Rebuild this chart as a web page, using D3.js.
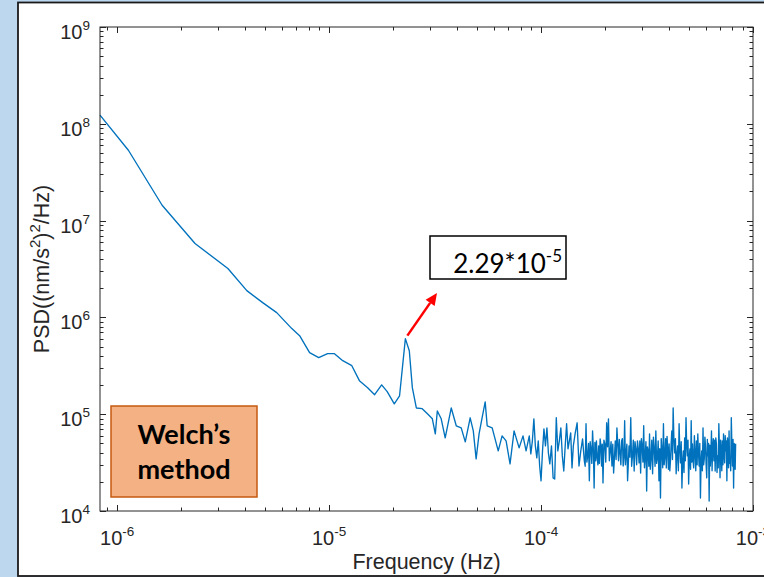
<!DOCTYPE html>
<html>
<head>
<meta charset="utf-8">
<script src="https://cdn.jsdelivr.net/npm/d3@7"></script>
<style>
  html, body { margin: 0; padding: 0; background: #bdd7ee; }
  svg { display: block; }
</style>
</head>
<body>
<svg id="chart"></svg>
<script>
// Гладкая низкочастотная часть спектра: частота (Hz) и PSD ((nm/s^2)^2/Hz)
let freqLow = [8.3e-7, 1.13e-6, 1.63e-6, 2.33e-6, 3.33e-6, 4.09e-6, 4.86e-6, 5.66e-6, 6.67e-6, 7.26e-6,
  8.09e-6, 8.93e-6, 9.84e-6, 1.06e-5, 1.16e-5, 1.28e-5, 1.39e-5, 1.52e-5, 1.64e-5, 1.77e-5,
  1.88e-5, 2.03e-5, 2.15e-5, 2.29e-5, 2.39e-5, 2.47e-5, 2.58e-5, 2.75e-5, 2.91e-5, 3.07e-5,
  3.17e-5, 3.24e-5, 3.38e-5, 3.53e-5, 3.77e-5, 3.98e-5, 4.2e-5, 4.39e-5, 4.63e-5, 4.79e-5,
  4.94e-5, 5.1e-5, 5.27e-5, 5.45e-5, 5.57e-5, 5.88e-5, 6.28e-5, 6.55e-5, 6.84e-5, 7.14e-5,
  7.46e-5, 7.88e-5, 8.22e-5, 8.5e-5];
let psdLow = [1.23e8, 5.33e7, 1.44e7, 5.8e6, 3.2e6, 1.89e6, 1.42e6, 1.12e6, 7.66e5, 6.48e5,
  4.32e5, 3.84e5, 4.22e5, 4.22e5, 3.57e5, 3.17e5, 2.22e5, 1.88e5, 1.59e5, 2.01e5,
  1.71e5, 1.28e5, 1.55e5, 6.04e5, 4.53e5, 1.88e5, 1.16e5, 1.14e5, 1.01e5, 8.96e4,
  6.27e4, 1.08e5, 8.96e4, 5.7e4, 1.16e5, 7.59e4, 7.22e4, 5.18e4, 9.18e4, 6.73e4,
  3.45e4, 6.27e4, 9.18e4, 1.34e5, 7.59e4, 7.22e4, 4.18e4, 5.97e4, 5.31e4, 3.07e4,
  6.73e4, 4.49e4, 5.97e4, 4.18e4];

// Шумная высокочастотная часть: частота в единицах 1e-4 Hz, PSD в единицах 1e4
let freqHigh = [0.88, 0.895, 0.91, 0.925, 0.94, 0.955, 0.97, 0.985, 1.00, 1.016,
  1.032, 1.049, 1.066, 1.083, 1.10, 1.12, 1.14, 1.16, 1.18, 1.20,
  1.22, 1.24, 1.26, 1.28, 1.30, 1.32, 1.34, 1.36, 1.38, 1.40,
  1.42, 1.45, 1.48, 1.51, 1.54, 1.57, 1.60, 1.63, 1.66, 1.69,
  1.72, 1.75, 1.78, 1.81, 1.84, 1.87, 1.90, 1.93, 1.96, 2.00,
  2.04, 2.08, 2.12, 2.16, 2.20, 2.24, 2.28, 2.32, 2.36, 2.40,
  2.44, 2.48, 2.52, 2.56, 2.60, 2.65, 2.70, 2.75, 2.80, 2.85,
  2.90, 2.95, 3.00, 3.05, 3.10, 3.15, 3.20, 3.25, 3.30, 3.36,
  3.42, 3.48, 3.54, 3.60, 3.66, 3.72, 3.78, 3.84, 3.90, 3.96,
  4.02, 4.08, 4.14, 4.20, 4.27, 4.34, 4.41, 4.48, 4.55, 4.62,
  4.69, 4.76, 4.83, 4.90, 4.97, 5.04, 5.11, 5.18, 5.25, 5.33,
  5.41, 5.49, 5.57, 5.65, 5.73, 5.81, 5.89, 5.97, 6.05, 6.13,
  6.21, 6.29, 6.37, 6.45, 6.54, 6.63, 6.72, 6.81, 6.90, 6.99,
  7.08, 7.17, 7.26, 7.35, 7.44, 7.53, 7.62, 7.71, 7.80, 7.90,
  8.00, 8.10, 8.20, 8.28];
let psdHigh = [5.97, 3.89, 5.31, 8.96, 4.71, 3.54, 5.31, 2.92, 2.05, 4.18,
  7.06, 4.71, 7.23, 3.98, 3.07, 4.71, 2.20, 2.14, 9.18, 4.18,
  5.31, 7.23, 3.71, 2.59, 4.71, 7.96, 4.39, 5.31, 6.41, 2.79,
  4.71, 6.41, 8.15, 2.92, 4.18, 5.56, 3.30, 7.96, 3.71, 2.05,
  4.39, 6.73, 1.73, 3.30, 3.54, 4.71, 5.56, 2.92, 1.95, 4.94,
  8.15, 8.96, 4.18, 2.92, 2.47, 5.31, 7.23, 3.30, 3.98, 5.31,
  2.92, 8.55, 3.89, 2.05, 4.71, 9.18, 3.71, 2.59, 4.39, 5.31,
  3.14, 2.47, 4.71, 7.59, 3.71, 1.61, 4.18, 6.27, 3.45, 2.42,
  4.39, 6.73, 3.54, 2.05, 1.36, 4.18, 7.96, 3.71, 2.79, 4.39,
  4.94, 3.30, 6.73, 11.6, 3.98, 2.42, 4.71, 7.96, 3.14, 1.73,
  4.18, 5.70, 9.18, 3.71, 1.90, 4.39, 8.55, 4.94, 2.79, 3.98,
  5.31, 6.27, 2.92, 1.36, 4.18, 7.23, 3.45, 4.71, 2.20, 3.71,
  1.27, 2.92, 6.73, 4.39, 3.30, 2.59, 4.94, 3.71, 7.96, 2.20,
  4.18, 5.31, 6.27, 3.14, 4.18, 2.05, 4.71, 6.73, 3.54, 9.18,
  2.92, 1.73, 4.18, 4.94];

// Дополнительные отсчеты в плотной полосе шума (те же единицы)
let freqDense = [1.615, 1.645, 1.675, 1.705, 1.735, 1.765, 1.795, 1.825, 1.855, 1.885,
  1.915, 1.945, 1.98, 2.02, 2.06, 2.10, 2.14, 2.18, 2.22, 2.26,
  2.30, 2.34, 2.38, 2.42, 2.46, 2.50, 2.54, 2.58, 2.625, 2.675,
  2.725, 2.775, 2.825, 2.875, 2.925, 2.975,
  3.025, 3.075, 3.125, 3.175, 3.225, 3.275, 3.33, 3.39, 3.45, 3.51,
  3.57, 3.63, 3.69, 3.75, 3.81, 3.87, 3.93, 3.99, 4.05, 4.11,
  4.17, 4.235, 4.305, 4.375, 4.445, 4.515, 4.585, 4.655, 4.725, 4.795,
  4.865, 4.935, 5.005, 5.075, 5.145, 5.215, 5.29, 5.37, 5.45, 5.53,
  5.61, 5.69, 5.77, 5.85, 5.93, 6.01, 6.09, 6.17, 6.25, 6.33,
  6.41, 6.495, 6.585, 6.675, 6.765, 6.855, 6.945, 7.035, 7.125, 7.215,
  7.305, 7.395, 7.485, 7.575, 7.665, 7.755, 7.85, 7.95, 8.05, 8.15,
  8.24];
let psdDense = [2.9, 3.2, 5.0, 5.2, 3.1, 4.4, 5.1, 5.3, 3.0, 3.1,
  4.8, 4.9, 5.4, 3.2, 4.6, 3.3, 5.2, 4.9, 3.6, 3.4,
  5.0, 5.5, 3.0, 5.6, 3.6, 3.0, 4.9, 3.0, 3.6, 2.9,
  5.4, 5.2, 3.0, 4.4, 5.3, 5.6,
  3.2, 2.8, 5.2, 4.6, 2.9, 2.7, 5.4, 5.8, 2.9, 3.1,
  5.3, 4.4, 5.6, 2.8, 3.0, 5.6, 5.9, 2.7, 2.6, 5.0,
  3.4, 5.5, 5.6, 3.9, 2.6, 4.4, 5.2, 3.2, 2.5, 3.3,
  4.9, 5.4, 3.6, 2.7, 3.2, 3.3, 6.0, 2.6, 3.0, 4.0,
  5.0, 3.3, 2.6, 3.0, 5.8, 3.0, 5.5, 5.0, 4.8, 4.0,
  2.6, 5.6, 5.4, 5.7, 2.5, 2.8, 4.4, 5.4, 2.6, 3.0,
  4.0, 6.0, 5.3, 5.7, 2.8, 3.1, 2.6, 4.8, 5.5, 5.0,
  2.7];

// Подписи осей и делений
let xTicks = [1e-6, 1e-5, 1e-4, 1e-3];
let yTicks = [1e4, 1e5, 1e6, 1e7, 1e8, 1e9];
let xDomain = [8.3e-7, 1e-3];
let yDomain = [1e4, 1e9];
let xTitle = "Frequency (Hz)";
let peakText = ["2.29*10", "-5"];
let peakFreq = 2.29e-5;
let methodLines = ["Welch\u2019s", "method"];

// Размеры
let width = 764;
let height = 577;
let mLeft = 100, mRight = 753, mTop = 27, mBottom = 511;
let axisColor = "#262626";
let lineColor = "#0072bd";

let svg = d3.select("#chart")
  .attr("width", width)
  .attr("height", height);

// белая панель с рамкой
svg.append("rect")
  .attr("x", 18)
  .attr("y", 2.5)
  .attr("width", 780)
  .attr("height", 573.5)
  .attr("fill", "#fff")
  .attr("stroke", "#1a1a1a")
  .attr("stroke-width", 1.8);

let x = d3.scaleLog().domain(xDomain).range([mLeft, mRight]);
let y = d3.scaleLog().domain(yDomain).range([mBottom, mTop]);

// точки спектра
let points = freqLow.map((f, i) => [f, psdLow[i]])
  .concat(freqHigh.map((f, i) => [f * 1e-4, psdHigh[i] * 1e4]))
  .concat(freqDense.map((f, i) => [f * 1e-4, psdDense[i] * 1e4]))
  .sort((a, b) => a[0] - b[0]);

let line = d3.line()
  .x(d => x(d[0]))
  .y(d => y(d[1]));

svg.append("path")
  .attr("d", line(points))
  .attr("fill", "none")
  .attr("stroke", lineColor)
  .attr("stroke-width", 1.35)
  .attr("stroke-linejoin", "round");

// рамка осей
svg.append("rect")
  .attr("x", mLeft)
  .attr("y", mTop)
  .attr("width", mRight - mLeft)
  .attr("height", mBottom - mTop)
  .attr("fill", "none")
  .attr("stroke", axisColor)
  .attr("stroke-width", 1);

let isMajor = v => Math.abs(Math.log10(v) - Math.round(Math.log10(v))) < 1e-9;

// деления по X и Y (на всех сторонах, внутрь)
let ticksG = svg.append("g")
  .attr("stroke", axisColor)
  .attr("stroke-width", 1);

x.ticks().forEach(t => {
  let len = isMajor(t) ? 6 : 3.5;
  let px = Math.round(x(t)) + 0.5;
  ticksG.append("line").attr("x1", px).attr("x2", px).attr("y1", mBottom).attr("y2", mBottom - len);
  ticksG.append("line").attr("x1", px).attr("x2", px).attr("y1", mTop).attr("y2", mTop + len);
});

y.ticks().forEach(t => {
  let len = isMajor(t) ? 6 : 3.5;
  let py = Math.round(y(t)) + 0.5;
  ticksG.append("line").attr("x1", mLeft).attr("x2", mLeft + len).attr("y1", py).attr("y2", py);
  ticksG.append("line").attr("x1", mRight).attr("x2", mRight - len).attr("y1", py).attr("y2", py);
});

// подписи делений вида 10^n
let font = "'Liberation Sans', Arial, Helvetica, sans-serif";

xTicks.forEach(t => {
  let label = svg.append("text")
    .attr("x", x(t))
    .attr("y", mBottom + 34)
    .attr("text-anchor", "middle")
    .attr("font-family", font)
    .attr("font-size", 20)
    .attr("fill", axisColor);
  label.append("tspan").text("10");
  label.append("tspan")
    .attr("dy", -9)
    .attr("font-size", 13.5)
    .text(Math.round(Math.log10(t)));
});

yTicks.forEach(t => {
  let label = svg.append("text")
    .attr("x", 90)
    .attr("y", y(t) + 12)
    .attr("text-anchor", "end")
    .attr("font-family", font)
    .attr("font-size", 20)
    .attr("fill", axisColor);
  label.append("tspan").text("10");
  label.append("tspan")
    .attr("dy", -9)
    .attr("font-size", 13.5)
    .text(Math.round(Math.log10(t)));
});

// подписи осей
svg.append("text")
  .attr("x", (mLeft + mRight) / 2)
  .attr("y", 569)
  .attr("text-anchor", "middle")
  .attr("font-family", font)
  .attr("font-size", 21.5)
  .attr("fill", axisColor)
  .text(xTitle);

let yTitle = svg.append("text")
  .attr("transform", `translate(49, ${(mTop + mBottom) / 2}) rotate(-90)`)
  .attr("text-anchor", "middle")
  .attr("font-family", font)
  .attr("font-size", 21.5)
  .attr("fill", axisColor);
yTitle.append("tspan").text("PSD((nm/s");
yTitle.append("tspan").attr("dy", -9).attr("font-size", 15).text("2");
yTitle.append("tspan").attr("dy", 9).text(")");
yTitle.append("tspan").attr("dy", -9).attr("font-size", 15).text("2");
yTitle.append("tspan").attr("dy", 9).text("/Hz)");

// выноска с частотой пика
let peakX = x(peakFreq);
let peakY = y(d3.max(psdLow.filter((p, i) => freqLow[i] === peakFreq)));

svg.append("rect")
  .attr("x", 430)
  .attr("y", 236)
  .attr("width", 136)
  .attr("height", 43)
  .attr("fill", "#fff")
  .attr("stroke", "#000")
  .attr("stroke-width", 1.5);

let peakLabel = svg.append("text")
  .attr("x", 562)
  .attr("y", 273)
  .attr("text-anchor", "end")
  .attr("font-family", "Lato, 'Open Sans', sans-serif")
  .attr("font-size", 26)
  .attr("fill", "#000");
peakLabel.append("tspan").text(peakText[0]);
peakLabel.append("tspan").attr("dy", -11).attr("font-size", 17).text(peakText[1]);

// красная стрелка от пика к выноске
let ax1 = peakX + 2, ay1 = peakY - 3;
let ax2 = 437, ay2 = 293;
let ang = Math.atan2(ay2 - ay1, ax2 - ax1);
let headLen = 12, headW = 5.5;
let bx = ax2 - headLen * Math.cos(ang), by = ay2 - headLen * Math.sin(ang);

svg.append("line")
  .attr("x1", ax1).attr("y1", ay1)
  .attr("x2", bx).attr("y2", by)
  .attr("stroke", "#ff0000")
  .attr("stroke-width", 2.5);

svg.append("path")
  .attr("d", `M${ax2},${ay2} L${bx - headW * Math.sin(ang)},${by + headW * Math.cos(ang)} L${bx + headW * Math.sin(ang)},${by - headW * Math.cos(ang)} Z`)
  .attr("fill", "#ff0000");

// плашка с названием метода
svg.append("rect")
  .attr("x", 111)
  .attr("y", 406)
  .attr("width", 146)
  .attr("height", 91)
  .attr("fill", "#f4b183")
  .attr("stroke", "#c55a11")
  .attr("stroke-width", 1.5);

svg.append("g")
  .selectAll("text")
  .data(methodLines)
  .join("text")
  .attr("x", 184)
  .attr("y", (d, i) => 444 + i * 35)
  .attr("text-anchor", "middle")
  .attr("font-family", "Lato, 'Open Sans', sans-serif")
  .attr("font-weight", "bold")
  .attr("font-size", 27)
  .attr("fill", "#000")
  .text(d => d);
</script>
</body>
</html>
